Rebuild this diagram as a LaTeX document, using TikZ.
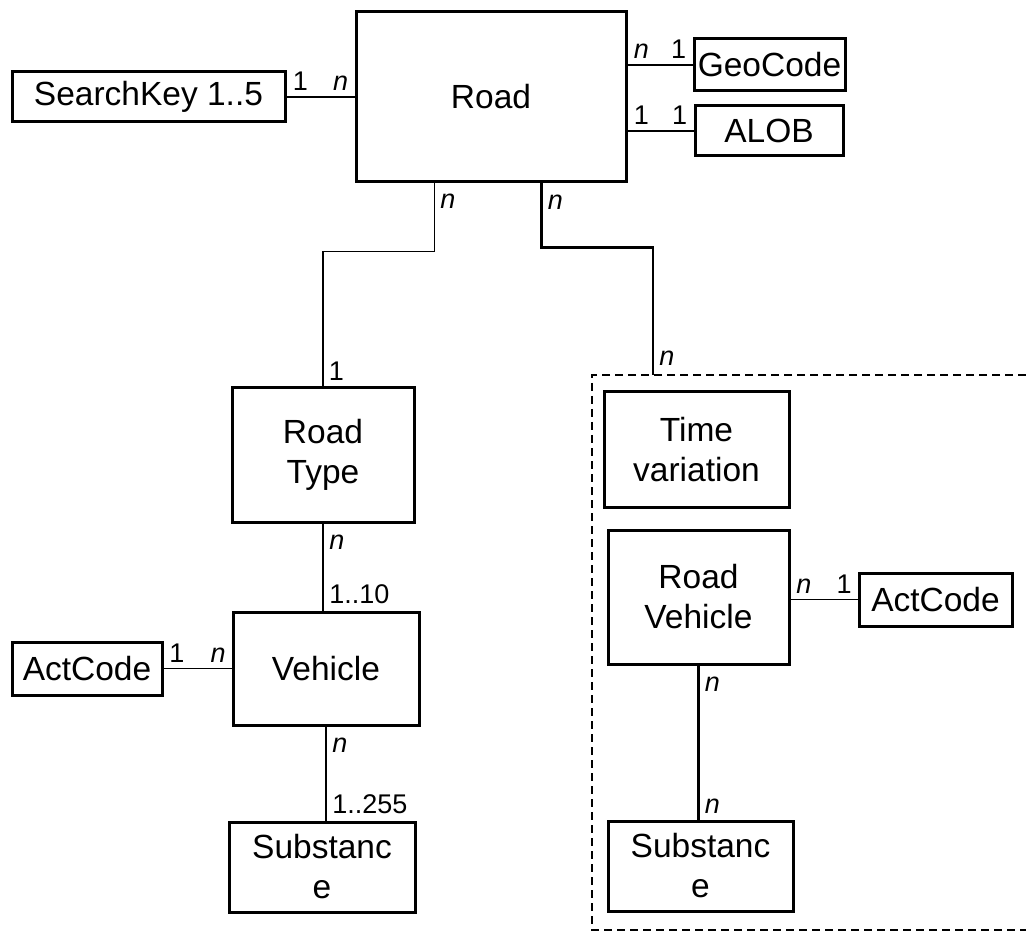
\documentclass[tikz,border=0pt]{standalone}
\usepackage{fontspec}
\setmainfont{Liberation Sans}
\usetikzlibrary{positioning, calc}

\begin{document}
\begin{tikzpicture}[x=1pt, y=-1pt,
    entity/.style={draw, rectangle, line width=3pt, inner sep=0pt, align=center,
      font=\fontsize{33.5}{40}\selectfont},
    card/.style={inner sep=5pt, font=\fontsize{27}{32}\selectfont},
    cardbelow/.style={card, below right, yshift=-5pt},
    link/.style={line width=2.8pt},
    thinlink/.style={line width=1.9pt}]
    \useasboundingbox (0,0) rectangle (1026,933);

    % main entities
    \node[entity, minimum width=270, minimum height=170] (road) at (491,97) {Road};
    \node[entity, minimum width=273, minimum height=50] (skey) at (148.5,97) {SearchKey 1..5};
    \node[entity, minimum width=151, minimum height=52] (geo) at (769.5,65) {GeoCode};
    \node[entity, minimum width=148, minimum height=50] (alob) at (769,131) {ALOB};

    \node[entity, minimum width=182, minimum height=134] (rtype) at (323,455) {Road\\Type};
    \node[entity, minimum width=186, minimum height=113] (veh) at (326,668.5) {Vehicle};
    \node[entity, minimum width=150, minimum height=53] (actl) at (87,668.5) {ActCode};
    \node[entity, minimum width=186, minimum height=90] (subl) at (322,867) {Substanc\\e};

    % time dependent group
    \node[entity, minimum width=185, minimum height=115] (tvar) at (696.5,449.5) {Time\\variation};
    \node[entity, minimum width=181, minimum height=134] (rveh) at (698.5,597) {Road\\Vehicle};
    \node[entity, minimum width=153, minimum height=53] (actr) at (935.5,599.5) {ActCode};
    \node[entity, minimum width=185, minimum height=90] (subr) at (700.5,866) {Substanc\\e};
    \draw[line width=2.2pt, dash pattern=on 8pt off 5pt]
      (1026,375) -- (592,375) -- (592,930) -- (1026,930);
    \coordinate (grp) at (653,375);

    % relations of road
    \draw[link] (skey.east) -- (skey.east -| road.west)
      node[card, pos=0, above right] {1}
      node[card, pos=1, above left] {\textit{n}};
    \draw[link] (road.east |- geo.west) -- (geo.west)
      node[card, pos=0, above right] {\textit{n}}
      node[card, pos=1, above left] {1};
    \draw[link] (road.east |- alob.west) -- (alob.west)
      node[card, pos=0, above right] {1}
      node[card, pos=1, above left] {1};
    \draw[thinlink] ([xshift=80]road.south west)
      -- node[cardbelow, pos=0] {\textit{n}} ++(0,68)
      -| node[card, pos=1, above right] {1} (rtype.north);
    \draw[link] ([xshift=187]road.south west)
      -- node[cardbelow, pos=0] {\textit{n}} ++(0,64)
      -| node[card, pos=1, above right, yshift=3pt] {\textit{n}} (grp);

    % vehicle chain
    \draw[link] (rtype.south) -- (rtype.south |- veh.north)
      node[cardbelow, pos=0] {\textit{n}}
      node[card, pos=1, above right] {1..10};
    \draw[link] (veh.south) -- (veh.south |- subl.north)
      node[cardbelow, pos=0] {\textit{n}}
      node[card, pos=1, above right] {1..255};
    \draw[thinlink] (actl.east) -- (veh.west)
      node[card, pos=0, above right] {1}
      node[card, pos=1, above left] {\textit{n}};

    % road vehicle
    \draw[thinlink] (rveh.east |- actr.west) -- (actr.west)
      node[card, pos=0, above right] {\textit{n}}
      node[card, pos=1, above left] {1};
    \draw[link] (rveh.south) -- (rveh.south |- subr.north)
      node[cardbelow, pos=0] {\textit{n}}
      node[card, pos=1, above right] {\textit{n}};
\end{tikzpicture}
\end{document}
